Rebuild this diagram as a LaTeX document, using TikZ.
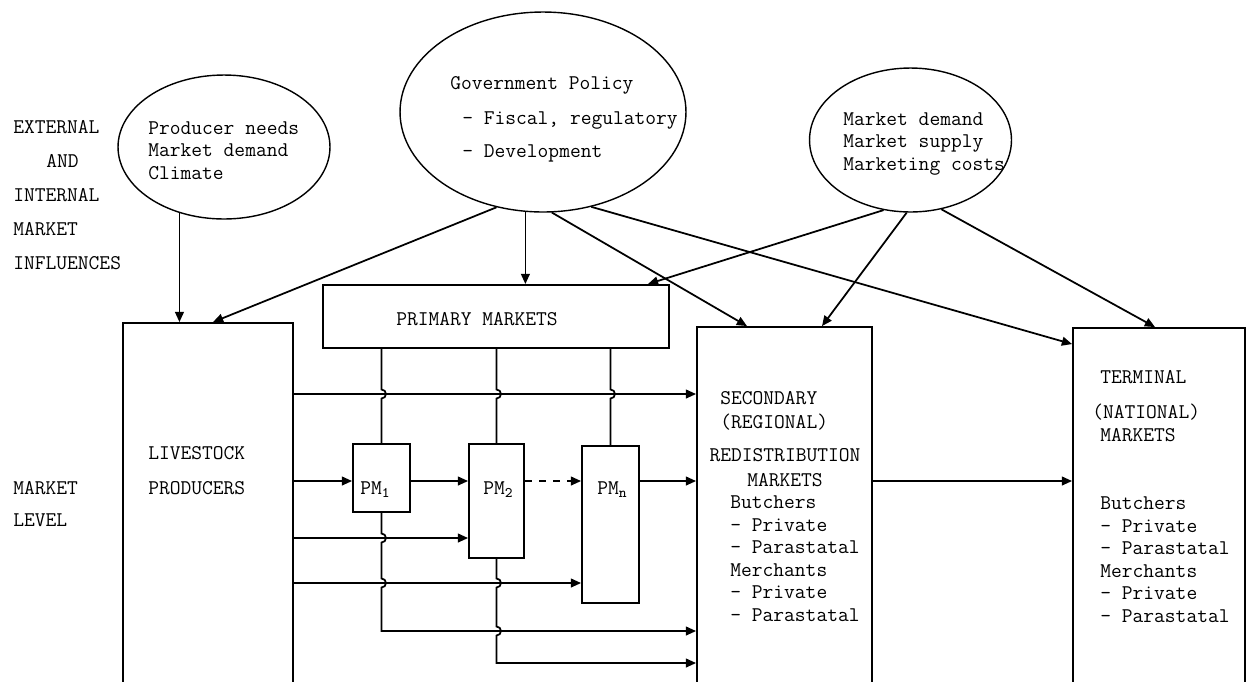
\documentclass[tikz,border=0pt]{standalone}
\usepackage{fontspec}
\usepackage{tikz}
\usetikzlibrary{arrows.meta,positioning,calc,shapes.geometric}
% vertical line jumping over a horizontal one
\newcommand{\hop}[1]{-- ($(#1)+(0,-4.5)$) arc[start angle=90,end angle=-90,radius=0.09cm]}
\tikzset{
  box/.style={draw,rectangle,line width=1.1pt,inner sep=0pt},
  oval/.style={draw,ellipse,line width=.8pt,inner sep=0pt},
  txt/.style={font=\fontsize{11.9}{12.8}\selectfont\ttfamily,
    inner sep=0pt,align=left,anchor=base west},
  arrow/.style={-{Triangle[length=5.8pt,width=5pt]},line width=1pt},
  link/.style={line width=1pt}
}

\begin{document}
\begin{tikzpicture}[x=0.02cm,y=-0.02cm]
\useasboundingbox (0,0) rectangle (1250,681);
\clip (0,0) rectangle (1250,681);

% influences
\node[oval,minimum width=4.24cm,minimum height=2.88cm] (needs) at (224,147) {};
\node[oval,minimum width=5.72cm,minimum height=4cm] (policy) at (543,112) {};
\node[oval,minimum width=4.04cm,minimum height=2.88cm] (forces) at (910.5,140) {};

% market level
\node[box,minimum width=3.4cm,minimum height=7.54cm] (prod) at (208,511.5) {};
\node[box,minimum width=6.92cm,minimum height=1.26cm] (prim) at (496,316.5) {};
\node[box,minimum width=1.14cm,minimum height=1.36cm] (pm1) at (381.5,478) {};
\node[box,minimum width=1.1cm,minimum height=2.28cm] (pm2) at (496.5,501) {};
\node[box,minimum width=1.14cm,minimum height=3.14cm] (pmn) at (610.5,524.5) {};
\node[box,minimum width=3.5cm,minimum height=7.46cm] (sec) at (784.5,513.5) {};
\node[box,minimum width=3.44cm,minimum height=7.44cm] (term) at (1159,514) {};

% texts (placed at the baseline of their last line)
\node[txt] (lblinf) at (13,269.4)
{EXTERNAL\\[6.5pt]\hspace*{0.66cm}AND\\[6.5pt]INTERNAL\\[6.5pt]MARKET\\[6.5pt]INFLUENCES};
\node[txt] (lbllvl) at (13,526.4) {MARKET\\[5.4pt]LEVEL};
\node[txt] (needstxt) at (148,179.4) {Producer needs\\Market demand\\Climate};
\node[txt] (policytxt) at (450,157.4)
{Government Policy\\[7pt]\hspace*{0.24cm}- Fiscal, regulatory\\[6pt]\hspace*{0.24cm}- Development};
\node[txt] (forcestxt) at (843,170.4) {Market demand\\Market supply\\Marketing costs};
\node[txt] (prodtxt) at (148,494.4) {LIVESTOCK\\[7.1pt]PRODUCERS};
\node[txt,anchor=base] (primtxt) at (477,325.4) {PRIMARY MARKETS};
\node[txt] (pm1txt) at (360,494.4) {PM\textsubscript{1}};
\node[txt] (pm2txt) at (483,494.4) {PM\textsubscript{2}};
\node[txt] (pmntxt) at (597,494.4) {PM\textsubscript{n}};
\node[txt] (sectitle) at (720,428.4) {SECONDARY\\[0.8pt](REGIONAL)};
\node[txt,align=center,anchor=base] (secsub) at (785,486.4) {REDISTRIBUTION\\[1.4pt]MARKETS};
\node[txt] (secbody) at (730,621.4)
{Butchers\\- Private\\- Parastatal\\Merchants\\- Private\\- Parastatal};
\node[txt] (termtitle) at (1100,383.4) {TERMINAL};
\node[txt] (termsub) at (1092,441.4) {(NATIONAL)\\\hspace*{0.16cm}MARKETS};
\node[txt] (termbody) at (1100,622.4)
{Butchers\\- Private\\- Parastatal\\Merchants\\- Private\\- Parastatal};

% influence arrows
\draw[arrow] (needs.236) -- (needs.236 |- prod.north);
\draw[arrow] (policy.244) -- ($(prod.north)+(5,0)$);
\draw[arrow] (policy.260) -- (policy.260 |- prim.north);
\draw[arrow] (policy.275) -- ($(sec.north)+(-37.5,0)$);
\draw[arrow] (policy.297) -- ($(term.north west)+(0,17)$);
\draw[arrow] (forces.249) -- ($(prim.north east)+(-22,0)$);
\draw[arrow] (forces.267) -- ($(sec.north)+(37.5,0)$);
\draw[arrow] (forces.294) -- ($(term.north)+(-4,0)$);

% flows
\coordinate (row1) at (0,394);
\coordinate (row2) at (0,481);
\coordinate (row3) at (0,538);
\coordinate (row4) at (0,583);
\coordinate (row5) at (0,631);
\coordinate (row6) at (0,663);
\draw[arrow] (prod.east |- row1) -- (sec.west |- row1);
\draw[arrow] (prod.east |- row2) -- (pm1.west |- row2);
\draw[arrow] (pm1.east |- row2) -- (pm2.west |- row2);
\draw[arrow,dash pattern=on 4pt off 4pt] (pm2.east |- row2) -- (pmn.west |- row2);
\draw[arrow] (pmn.east |- row2) -- (sec.west |- row2);
\draw[arrow] (sec.east |- row2) -- (term.west |- row2);
\draw[arrow] (prod.east |- row3) -- (pm2.west |- row3);
\draw[arrow] (prod.east |- row4) -- (pmn.west |- row4);

\draw[link] (prim.south -| pm1.north) \hop{pm1.north |- row1} -- (pm1.north);
\draw[link] (prim.south -| pm2.north) \hop{pm2.north |- row1} -- (pm2.north);
\draw[link] (prim.south -| pmn.north) \hop{pmn.north |- row1} -- (pmn.north);
\draw[arrow] (pm1.south) \hop{pm1.south |- row3} \hop{pm1.south |- row4}
  -- (pm1.south |- row5) -- (sec.west |- row5);
\draw[arrow] (pm2.south) \hop{pm2.south |- row4} \hop{pm2.south |- row5}
  -- (pm2.south |- row6) -- (sec.west |- row6);
\end{tikzpicture}
\end{document}
